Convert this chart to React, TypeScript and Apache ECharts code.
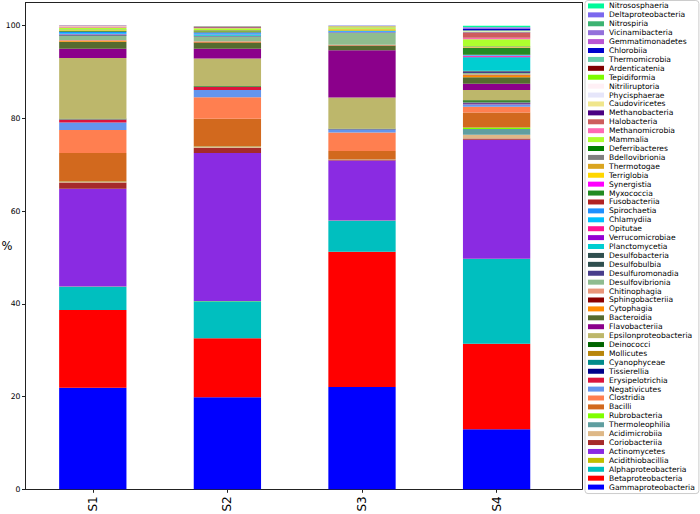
import React, { useEffect, useRef } from "react";
import * as echarts from "echarts";

const categories = ["S1", "S2", "S3", "S4"];

// stacking order, bottom to top
const classNames = [
  "Gammaproteobacteria", "Betaproteobacteria", "Alphaproteobacteria", "Acidithiobacillia", "Actinomycetes",
  "Coriobacteriia", "Acidimicrobiia", "Thermoleophilia", "Rubrobacteria", "Bacilli",
  "Clostridia", "Negativicutes", "Erysipelotrichia", "Tissierellia", "Cyanophyceae",
  "Mollicutes", "Deinococci", "Epsilonproteobacteria", "Flavobacteriia", "Bacteroidia",
  "Cytophagia", "Sphingobacteriia", "Chitinophagia", "Desulfovibrionia", "Desulfuromonadia",
  "Desulfobulbia", "Desulfobacteria", "Planctomycetia", "Verrucomicrobiae", "Opitutae",
  "Chlamydiia", "Spirochaetia", "Fusobacteriia", "Myxococcia", "Synergistia",
  "Terriglobia", "Thermotogae", "Bdellovibrionia", "Deferribacteres", "Mammalia",
  "Methanomicrobia", "Halobacteria", "Methanobacteria", "Caudoviricetes", "Phycisphaerae",
  "Nitriliruptoria", "Tepidiformia", "Ardenticatenia", "Thermomicrobia", "Chlorobiia",
  "Gemmatimonadetes", "Vicinamibacteria", "Nitrospiria", "Deltaproteobacteria", "Nitrososphaeria",
];

const classColors = [
  "#0000FF", "#FF0000", "#00BFBF", "#BFBF00", "#8A2BE2",
  "#A52A2A", "#DEB887", "#5F9EA0", "#7FFF00", "#D2691E",
  "#FF7F50", "#6495ED", "#DC143C", "#00008B", "#008B8B",
  "#B8860B", "#006400", "#BDB76B", "#8B008B", "#556B2F",
  "#FF8C00", "#8B0000", "#E9967A", "#8FBC8F", "#483D8B",
  "#2F4F4F", "#2F4F4F", "#00CED1", "#9400D3", "#FF1493",
  "#00BFFF", "#1E90FF", "#B22222", "#228B22", "#FF00FF",
  "#FFD700", "#DAA520", "#808080", "#008000", "#ADFF2F",
  "#FF69B4", "#CD5C5C", "#4B0082", "#F0E68C", "#E6E6FA",
  "#FFF0F5", "#7CFC00", "#800000", "#66CDAA", "#0000CD",
  "#BA55D3", "#9370DB", "#3CB371", "#7B68EE", "#00FA9A",
];

const s1Values = [
  21.9, 16.8, 5.0, 0.05, 21.1, 1.3, 0.15, 0.05, 0.05, 6.15,
  4.95, 1.6, 0.6, 0.05, 0.05, 0.1, 0.1, 13.05, 1.95, 1.55,
  0.15, 0.05, 0.15, 0.9, 0.1, 0.05, 0.05, 0.1, 0.05, 0.05,
  0.15, 0.3, 0.05, 0.2, 0.02, 0.1, 0.05, 0.05, 0.05, 0.4,
  0.1, 0.15, 0.03, 0.03, 0.02, 0.02, 0.02, 0.02, 0.01, 0.01,
  0.01, 0.01, 0.01, 0.01, 0.01,
];
const s2Values = [
  19.85, 12.75, 7.95, 0.05, 31.95, 1.1, 0.2, 0.05, 0.05, 6.0,
  4.6, 1.6, 0.6, 0.05, 0.05, 0.05, 0.1, 5.9, 2.1, 1.3,
  0.15, 0.05, 0.15, 1.0, 0.1, 0.05, 0.05, 0.15, 0.05, 0.05,
  0.15, 0.3, 0.05, 0.2, 0.02, 0.1, 0.05, 0.05, 0.05, 0.35,
  0.1, 0.15, 0.03, 0.03, 0.02, 0.02, 0.02, 0.02, 0.01, 0.01,
  0.01, 0.01, 0.01, 0.01, 0.01,
];
const s3Values = [
  22.05, 29.2, 6.7, 0.05, 12.9, 0.15, 0.05, 0.02, 0.02, 1.85,
  3.95, 0.6, 0.05, 0.05, 0.05, 0.05, 0.05, 6.7, 10.2, 1.0,
  0.05, 0.02, 0.1, 2.6, 0.05, 0.02, 0.02, 0.05, 0.02, 0.02,
  0.05, 0.15, 0.02, 0.1, 0.02, 0.2, 0.1, 0.05, 0.02, 0.3,
  0.05, 0.1, 0.03, 0.03, 0.02, 0.02, 0.02, 0.02, 0.01, 0.01,
  0.01, 0.01, 0.01, 0.01, 0.01,
];
const s4Values = [
  12.95, 18.45, 18.3, 0.05, 25.65, 0.25, 0.85, 1.2, 0.35, 3.2,
  1.25, 0.55, 0.15, 0.2, 0.1, 0.1, 0.3, 2.2, 1.35, 1.45,
  0.4, 0.1, 0.1, 0.3, 0.3, 0.1, 0.1, 2.9, 0.1, 0.2,
  0.1, 0.1, 0.05, 1.5, 0.05, 0.1, 0.05, 0.05, 0.05, 1.55,
  0.3, 1.1, 0.1, 0.1, 0.05, 0.05, 0.05, 0.05, 0.1, 0.4,
  0.05, 0.1, 0.05, 0.1, 0.3,
];

const yTicks = [0, 20, 40, 60, 80, 100];

const FONT = "DejaVu Sans";
const AXIS = "#222";

const frameAxis = (extra: object) => ({
  type: "value",
  gridIndex: 1,
  min: 0,
  max: 1,
  axisLine: { show: true, onZero: false, lineStyle: { color: AXIS, width: 1 } },
  axisTick: { show: false },
  axisLabel: { show: false },
  splitLine: { show: false },
  ...extra,
});

export default function App() {
  const ref = useRef<HTMLDivElement>(null);

  useEffect(() => {
    if (!ref.current) return;
    const chart = echarts.init(ref.current, undefined, { renderer: "svg" });
    const samples = [s1Values, s2Values, s3Values, s4Values];

    const series = classNames.map((name, k) => ({
      name,
      type: "bar",
      stack: "total",
      barWidth: "50%",
      xAxisIndex: 0,
      yAxisIndex: 0,
      itemStyle: { color: classColors[k] },
      emphasis: { disabled: true },
      data: samples.map((vals) => vals[k]),
    }));

    chart.setOption({
      animation: false,
      grid: [
        // bar area
        { left: 25.5, right: 136.1, top: 2.5, bottom: 24.7, show: false, outerBoundsMode: "none", containLabel: false },
        // frame (axes box)
        { left: 25.5, right: 118, top: 2.5, bottom: 24.7, show: false, outerBoundsMode: "none", containLabel: false },
      ],
      legend: {
        orient: "vertical",
        left: 585,
        top: 0.5,
        itemWidth: 16,
        itemHeight: 5,
        itemGap: 0,
        padding: [1, 4, 2, 3],
        borderColor: "#cccccc",
        borderWidth: 1,
        borderRadius: 3,
        icon: "rect",
        selectedMode: false,
        textStyle: { fontSize: 7.6, lineHeight: 8.91, fontFamily: FONT, color: "#000" },
        data: [...classNames].reverse(),
      },
      xAxis: [
        {
          type: "category",
          gridIndex: 0,
          data: categories,
          boundaryGap: true,
          splitLine: { show: false },
          axisLine: { show: false },
          axisTick: { show: true, length: 3.5, alignWithLabel: true, lineStyle: { color: AXIS } },
          axisLabel: {
            rotate: 90,
            margin: 7,
            fontSize: 12,
            fontFamily: FONT,
            color: "#000",
          },
        },
        frameAxis({ position: "bottom" }),
        frameAxis({ position: "top" }),
      ],
      yAxis: [
        {
          type: "value",
          gridIndex: 0,
          min: 0,
          max: 105,
          interval: 20,
          name: "%",
          nameLocation: "middle",
          nameRotate: 0,
          nameGap: 13,
          nameMoveOverlap: false,
          nameTextStyle: { fontSize: 11.5, fontFamily: FONT, color: "#000" },
          splitLine: { show: false },
          axisLine: { show: false },
          axisTick: { show: true, length: 3.5, customValues: yTicks, lineStyle: { color: AXIS } },
          axisLabel: {
            customValues: yTicks,
            margin: 5,
            fontSize: 7.7,
            fontFamily: FONT,
            color: "#000",
          },
        },
        frameAxis({ position: "left" }),
        frameAxis({ position: "right" }),
      ],
      series,
    });

    return () => chart.dispose();
  }, []);

  return (
    <div
      ref={ref}
      style={{ position: "absolute", left: 0, top: 0, width: 700, height: 514 }}
    />
  );
}
